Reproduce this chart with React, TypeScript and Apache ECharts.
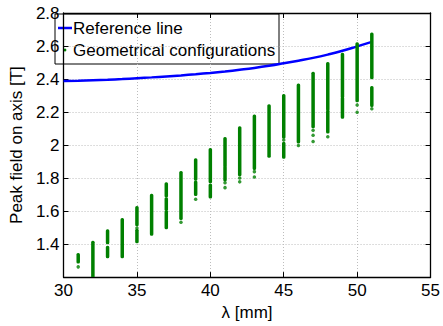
import React, { useEffect, useRef } from "react";
import * as echarts from "echarts";

// Reference line: λ [mm] -> peak field [T]
const refLambda = [30, 31, 32, 33, 34, 35, 36, 37, 38, 39, 40, 41, 42, 43, 44, 45, 46, 47, 48, 49, 50, 51];
const refField = [2.388, 2.39, 2.393, 2.396, 2.4, 2.405, 2.41, 2.416, 2.422, 2.429, 2.437, 2.446, 2.456, 2.467, 2.48, 2.495, 2.511, 2.528, 2.548, 2.571, 2.598, 2.625];

// Dense runs of geometrical configurations: [λ, top field, bottom field]
const configRuns: [number, number, number][] = [
  [31, 1.338, 1.291],
  [32, 1.411, 1.19],
  [33, 1.482, 1.407], [33, 1.382, 1.322],
  [34, 1.55, 1.322],
  [35, 1.623, 1.517], [35, 1.484, 1.414],
  [36, 1.696, 1.459],
  [37, 1.766, 1.69], [37, 1.675, 1.61], [37, 1.598, 1.498],
  [38, 1.835, 1.555],
  [39, 1.912, 1.792], [39, 1.777, 1.7],
  [40, 1.973, 1.777], [40, 1.758, 1.684],
  [41, 2.041, 1.873], [41, 1.864, 1.787],
  [42, 2.105, 1.819],
  [43, 2.176, 1.858],
  [44, 2.239, 1.931],
  [45, 2.301, 2.047], [45, 2.012, 1.925],
  [46, 2.365, 2.018],
  [47, 2.436, 2.11],
  [48, 2.494, 2.215], [48, 2.205, 2.079],
  [49, 2.551, 2.291], [49, 2.284, 2.168],
  [50, 2.615, 2.268],
  [51, 2.673, 2.407], [51, 2.349, 2.239],
];

// Isolated configurations: [λ, field]
const configDots: [number, number][] = [
  [31, 1.262], [35, 1.498], [38, 1.532], [39, 1.671], [41, 1.771], [41, 1.742],
  [42, 1.8], [42, 1.777], [43, 1.839], [43, 1.806], [45, 2.031], [46, 1.997],
  [47, 2.089], [47, 2.06], [47, 2.021], [48, 2.05], [50, 2.243], [50, 2.199], [51, 2.22],
];

const FONT = "'Liberation Sans', Arial, Helvetica, sans-serif";
const FS = 17;
const GREEN = "#008000";
const BLUE = "#0000ff";

export default function App() {
  const ref = useRef<HTMLDivElement>(null);
  useEffect(() => {
    if (!ref.current) return;
    const chart = echarts.init(ref.current, null, { renderer: "svg" });
    const gridLine = { show: true, lineStyle: { color: "#bdbdbd", type: [1, 2] as any, width: 1 } };
    const tick = { show: true, inside: true, length: 5, lineStyle: { color: "#000", width: 1 } };
    const axLine = { show: true, lineStyle: { color: "#000", width: 1.3 } };
    chart.setOption({
      animation: false,
      backgroundColor: "#fff",
      textStyle: { fontFamily: FONT },
      grid: { left: 53, right: 10, top: 13, bottom: 36, containLabel: false },
      xAxis: [
        {
          type: "value", min: 30, max: 55, interval: 5, position: "bottom",
          name: "λ [mm]", nameLocation: "middle", nameGap: 18,
          nameTextStyle: { fontSize: FS, color: "#000", fontFamily: FONT },
          axisLine: axLine, axisTick: tick, splitLine: gridLine,
          axisLabel: { fontSize: FS, color: "#000", margin: 5, fontFamily: FONT },
        },
        {
          type: "value", min: 30, max: 55, interval: 5, position: "top",
          axisLine: axLine, axisTick: tick, splitLine: { show: false }, axisLabel: { show: false },
        },
      ],
      yAxis: [
        {
          type: "value", min: 1.2, max: 2.8, interval: 0.2, position: "left",
          name: "Peak field on axis [T]", nameLocation: "middle", nameGap: 31,
          nameTextStyle: { fontSize: FS, color: "#000", fontFamily: FONT },
          axisLine: axLine, axisTick: tick, splitLine: gridLine,
          axisLabel: {
            fontSize: FS, color: "#000", margin: 4, fontFamily: FONT, showMinLabel: false,
            formatter: (v: number) => String(+v.toFixed(1)),
          },
        },
        {
          type: "value", min: 1.2, max: 2.8, interval: 0.2, position: "right",
          axisLine: axLine, axisTick: tick, splitLine: { show: false }, axisLabel: { show: false },
        },
      ],
      series: [
        {
          name: "Reference line",
          type: "line",
          data: refLambda.map((x, i) => [x, refField[i]]),
          smooth: true,
          showSymbol: false,
          lineStyle: { color: BLUE, width: 2.5 },
          z: 2,
        },
        {
          name: "Geometrical configurations",
          type: "custom",
          data: configRuns,
          encode: { x: 0, y: [1, 2] },
          clip: true,
          z: 3,
          renderItem: (params: any, api: any) => {
            const x = api.value(0);
            const top = api.coord([x, api.value(1)]);
            const bot = api.coord([x, api.value(2)]);
            return {
              type: "rect",
              shape: { x: top[0] - 1.75, y: top[1] - 1.4, width: 3.5, height: bot[1] - top[1] + 2.8, r: 1.5 },
              style: { fill: GREEN },
            };
          },
        },
        {
          name: "Geometrical configurations",
          type: "scatter",
          data: configDots,
          symbol: "circle",
          symbolSize: 3.5,
          itemStyle: { color: GREEN },
          z: 3,
        },
      ],
      graphic: [
        {
          type: "group",
          z: 100,
          children: [
            { type: "rect", shape: { x: 55, y: 14, width: 224, height: 50 }, style: { fill: "#fff", stroke: "#000", lineWidth: 1 } },
            { type: "line", shape: { x1: 58, y1: 28, x2: 72, y2: 28 }, style: { stroke: BLUE, lineWidth: 2.5 } },
            { type: "circle", shape: { cx: 65, cy: 50, r: 1.4 }, style: { fill: GREEN } },
            { type: "text", x: 73, y: 28, style: { text: "Reference line", fontSize: FS, fontFamily: FONT, fill: "#000", verticalAlign: "middle", align: "left" } },
            { type: "text", x: 73, y: 50, style: { text: "Geometrical configurations", fontSize: FS, fontFamily: FONT, fill: "#000", verticalAlign: "middle", align: "left" } },
          ],
        },
      ],
    });
    return () => chart.dispose();
  }, []);
  return <div ref={ref} style={{ width: 443, height: 326, position: "absolute", left: 0, top: 0 }} />;
}
